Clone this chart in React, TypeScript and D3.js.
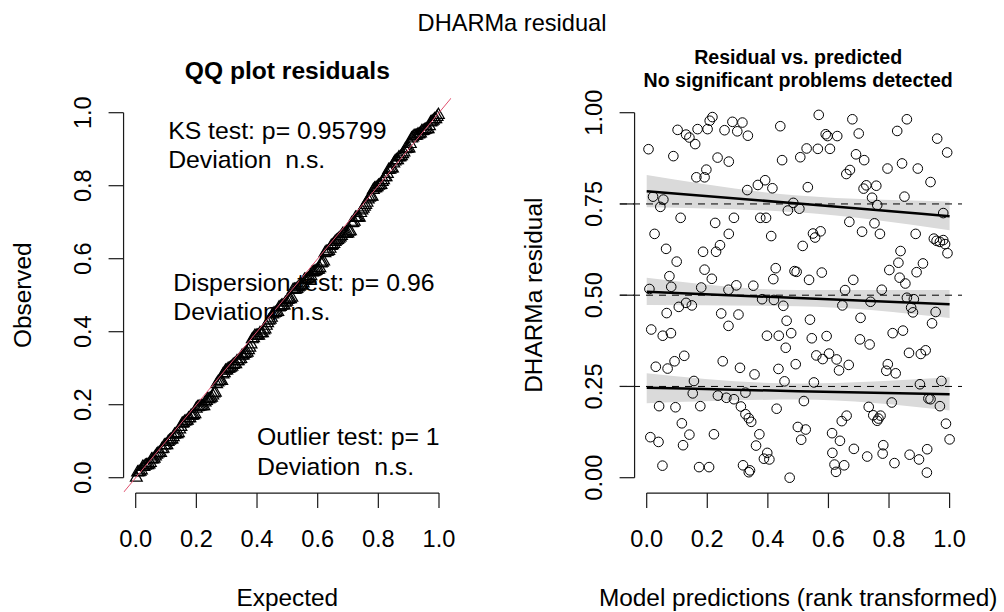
import React from "react";
import * as d3 from "d3";

// ---------- data ----------
const predX = [0.006,0.088,0.102,0.130,0.141,0.160,0.168,0.201,0.208,0.217,
0.234,0.257,0.271,0.283,0.299,0.316,0.334,0.441,0.447,0.507,
0.528,0.568,0.565,0.591,0.597,0.605,0.629,0.679,0.691,0.700,
0.718,0.827,0.859,0.843,0.795,0.895,0.959,0.992,0.164,0.191,
0.197,0.332,0.367,0.391,0.415,0.532,0.659,0.671,0.716,0.725,
0.758,0.744,0.937,0.021,0.055,0.045,0.851,0.484,0.466,0.504,
0.761,0.979,0.112,0.288,0.375,0.394,0.226,0.669,0.752,0.026,
0.271,0.411,0.549,0.556,0.574,0.711,0.770,0.888,0.515,0.948,
0.957,0.968,0.979,0.985,0.993,0.064,0.242,0.229,0.186,0.838,
0.099,0.831,0.075,0.081,0.009,0.191,0.215,0.180,0.296,0.352,
0.270,0.426,0.418,0.488,0.495,0.536,0.578,0.655,0.682,0.801,
0.835,0.854,0.912,0.891,0.776,0.381,0.420,0.451,0.462,0.539,
0.646,0.739,0.859,0.882,0.873,0.879,0.954,0.942,0.706,0.130,
0.149,0.106,0.066,0.246,0.303,0.270,0.015,0.053,0.080,0.397,
0.436,0.477,0.545,0.594,0.704,0.736,0.812,0.846,0.459,0.560,
0.581,0.602,0.627,0.635,0.667,0.866,0.905,0.921,0.030,0.069,
0.092,0.124,0.251,0.308,0.356,0.435,0.492,0.796,0.791,0.822,
0.455,0.552,0.156,0.902,0.973,0.152,0.235,0.263,0.288,0.326,
0.519,0.809,0.930,0.937,0.968,0.041,0.095,0.177,0.311,0.429,
0.326,0.337,0.345,0.116,0.733,0.748,0.765,0.772,0.761,0.660,
0.644,0.988,0.141,0.222,0.372,0.499,0.525,0.612,0.012,0.039,
0.510,0.638,1.000,0.120,0.361,0.926,0.684,0.781,0.779,0.398,
0.405,0.387,0.613,0.728,0.868,0.899,0.052,0.173,0.206,0.318,
0.341,0.337,0.620,0.625,0.652,0.818,0.925,0.472];

const residuals = [0.900,0.881,0.953,0.940,0.932,0.914,0.955,0.955,0.978,0.988,
0.877,0.952,0.866,0.975,0.949,0.973,0.937,0.963,0.870,0.878,
0.902,0.994,0.901,0.941,0.936,0.901,0.936,0.982,0.886,0.943,
0.870,0.950,0.982,0.861,0.847,0.847,0.929,0.891,0.823,0.823,
0.844,0.788,0.802,0.815,0.793,0.796,0.832,0.843,0.792,0.801,
0.800,0.767,0.810,0.770,0.762,0.742,0.770,0.753,0.732,0.737,
0.747,0.725,0.712,0.712,0.712,0.712,0.698,0.701,0.697,0.668,
0.668,0.662,0.669,0.658,0.675,0.674,0.668,0.668,0.635,0.655,
0.649,0.646,0.651,0.640,0.615,0.627,0.637,0.619,0.619,0.621,
0.592,0.589,0.552,0.523,0.517,0.570,0.545,0.521,0.527,0.526,
0.515,0.574,0.544,0.566,0.564,0.542,0.562,0.514,0.542,0.569,
0.548,0.532,0.587,0.563,0.515,0.489,0.487,0.471,0.430,0.433,
0.472,0.482,0.493,0.489,0.466,0.453,0.454,0.423,0.438,0.479,
0.472,0.468,0.451,0.450,0.447,0.416,0.406,0.389,0.396,0.389,
0.389,0.396,0.382,0.388,0.379,0.365,0.396,0.403,0.356,0.335,
0.325,0.340,0.324,0.294,0.309,0.342,0.339,0.349,0.304,0.299,
0.319,0.334,0.319,0.301,0.283,0.298,0.311,0.311,0.293,0.286,
0.264,0.261,0.265,0.256,0.265,0.231,0.225,0.219,0.215,0.233,
0.210,0.206,0.217,0.215,0.196,0.196,0.193,0.196,0.195,0.189,
0.174,0.163,0.153,0.149,0.194,0.171,0.162,0.170,0.156,0.170,
0.155,0.148,0.118,0.119,0.119,0.139,0.132,0.122,0.111,0.098,
0.104,0.101,0.105,0.089,0.088,0.078,0.079,0.089,0.066,0.068,
0.050,0.052,0.068,0.058,0.063,0.050,0.033,0.029,0.029,0.034,
0.020,0.015,0.036,0.016,0.034,0.040,0.014,0.000];

// quantile regression fits (at x = 0, 0.5, 1)
const bandX = [0, 0.5, 1];
const quantiles = [0.25, 0.5, 0.75];
const qFit = [
  [0.2466, 0.237, 0.2284],
  [0.5096, 0.492, 0.475],
  [0.785, 0.751, 0.7165],
];
const qLower = [
  [0.204, 0.214, 0.184],
  [0.473, 0.470, 0.4375],
  [0.741, 0.727, 0.678],
];
const qUpper = [
  [0.286, 0.258, 0.275],
  [0.548, 0.514, 0.514],
  [0.829, 0.773, 0.757],
];

const ticksLeftX = [0, 0.2, 0.4, 0.6, 0.8, 1.0];
const ticksLeftY = [0, 0.2, 0.4, 0.6, 0.8, 1.0];
const ticksRightX = [0, 0.2, 0.4, 0.6, 0.8, 1.0];
const ticksRightY = [0, 0.25, 0.5, 0.75, 1.0];

const mainTitle = "DHARMa residual";
const qqTitle = "QQ plot residuals";
const rvpTitle = ["Residual vs. predicted", "No significant problems detected"];
const qqLegend = [
  { lines: ["KS test: p= 0.95799", "Deviation  n.s."], x: 0.107, y: [138.5, 167.5] },
  { lines: ["Dispersion test: p= 0.96", "Deviation  n.s."], x: 0.124, y: [290.5, 319.5] },
  { lines: ["Outlier test: p= 1", "Deviation  n.s."], x: 0.4, y: [444.5, 474.5] },
];

const FONT = "'Liberation Sans', Arial, Helvetica, sans-serif";
const AX = "#1a1a1a";

export default function App() {
  const W = 1004, H = 612;
  const xL = d3.scaleLinear().domain([0, 1]).range([135.7, 439]);
  const yL = d3.scaleLinear().domain([0, 1]).range([477.7, 112.7]);
  const xR = d3.scaleLinear().domain([0, 1]).range([646.7, 949.6]);
  const yR = yL;

  const n = residuals.length;
  const sorted = [...residuals].sort((a, b) => a - b);
  const expected = sorted.map((_, i) => (i + 0.5) / n);

  const tri = "M0,-6.8 L5.9,3.4 L-5.9,3.4 Z";

  const leftAxisY = yL(-0.04) + 0.8;
  const leftAxisX = xL(-0.04);
  const rightAxisX = xR(-0.04);
  const tickLen = 15;
  const fs = 23.6;
  const fsLab = 24.4;

  const area = (i: number) =>
    d3.area<number>()
      .x((_, k) => xR(bandX[k]))
      .y0((_, k) => yR(qLower[i][k]))
      .y1((_, k) => yR(qUpper[i][k]))
      .curve(d3.curveMonotoneX)(bandX);
  const fitLine = (i: number) =>
    d3.line<number>()
      .x((_, k) => xR(bandX[k]))
      .y((_, k) => yR(qFit[i][k]))
      .curve(d3.curveMonotoneX)(bandX);

  return (
    <svg width={W} height={H} style={{ position: "absolute", left: 0, top: 0, background: "#fff" }} fontFamily={FONT}>
      <rect x={0} y={0} width={W} height={H} fill="#fff" />
      <defs>
        <clipPath id="clipL">
          <rect x={xL(-0.04)} y={yL(1.04)} width={xL(1.04) - xL(-0.04)} height={yL(-0.04) - yL(1.04)} />
        </clipPath>
      </defs>
      <text x={512} y={30.5} fontSize={23.6} textAnchor="middle" fill="#000">{mainTitle}</text>

      {/* ---------- left: QQ plot ---------- */}
      <text x={(xL(-0.04) + xL(1.04)) / 2} y={79} fontSize={24.6} fontWeight="bold" textAnchor="middle">{qqTitle}</text>
      <g>
        {sorted.map((v, i) => (
          <path key={i} d={tri} transform={`translate(${xL(expected[i])},${yL(v)})`} fill="none" stroke="#000" strokeWidth={1.2} />
        ))}
      </g>
      <line clipPath="url(#clipL)" x1={xL(-0.04)} y1={yL(-0.04)} x2={xL(1.04)} y2={yL(1.04)} stroke="#e0506e" strokeWidth={1} />
      {qqLegend.map((g, gi) =>
        g.lines.map((t, li) => (
          <text key={`${gi}-${li}`} x={xL(g.x)} y={g.y[li]} fontSize={24.8} fill="#000" style={{ whiteSpace: "pre" }}>{t}</text>
        ))
      )}
      {/* axes */}
      <line x1={xL(0)} x2={xL(1)} y1={leftAxisY} y2={leftAxisY} stroke={AX} strokeWidth={1.2} />
      {ticksLeftX.map((t) => (
        <g key={t}>
          <line x1={xL(t)} x2={xL(t)} y1={leftAxisY} y2={leftAxisY + tickLen} stroke={AX} strokeWidth={1.2} />
          <text x={xL(t)} y={547} fontSize={fs} textAnchor="middle">{t.toFixed(1)}</text>
        </g>
      ))}
      <line x1={leftAxisX} x2={leftAxisX} y1={yL(0)} y2={yL(1)} stroke={AX} strokeWidth={1.2} />
      {ticksLeftY.map((t) => (
        <g key={t}>
          <line x1={leftAxisX - tickLen} x2={leftAxisX} y1={yL(t)} y2={yL(t)} stroke={AX} strokeWidth={1.2} />
          <text transform={`translate(${leftAxisX - 33},${yL(t)}) rotate(-90)`} fontSize={fs} textAnchor="middle">{t.toFixed(1)}</text>
        </g>
      ))}
      <text x={(xL(0) + xL(1)) / 2} y={605.5} fontSize={fsLab} textAnchor="middle">Expected</text>
      <text transform={`translate(${leftAxisX - 92.5},${(yL(0) + yL(1)) / 2}) rotate(-90)`} fontSize={fsLab} textAnchor="middle">Observed</text>

      {/* ---------- right: residual vs predicted ---------- */}
      <text x={(xR(-0.04) + xR(1.04)) / 2} y={64} fontSize={19.6} fontWeight="bold" textAnchor="middle">{rvpTitle[0]}</text>
      <text x={(xR(-0.04) + xR(1.04)) / 2} y={87} fontSize={19.6} fontWeight="bold" textAnchor="middle">{rvpTitle[1]}</text>
      {quantiles.map((q, i) => (
        <path key={`b${q}`} d={area(i) || ""} fill="#dadada" stroke="none" />
      ))}
      {quantiles.map((q) => (
        <line key={`h${q}`} x1={620} x2={962} y1={yR(q)} y2={yR(q)} stroke="#000" strokeWidth={1} strokeDasharray="7,6" />
      ))}
      {quantiles.map((q, i) => (
        <path key={`l${q}`} d={fitLine(i) || ""} fill="none" stroke="#000" strokeWidth={2.5} />
      ))}
      <g>
        {predX.map((x, i) => (
          <circle key={i} cx={xR(x)} cy={yR(residuals[i])} r={4.8} fill="none" stroke="#000" strokeWidth={1} />
        ))}
      </g>
      <line x1={xR(0)} x2={xR(1)} y1={leftAxisY} y2={leftAxisY} stroke={AX} strokeWidth={1.2} />
      {ticksRightX.map((t) => (
        <g key={t}>
          <line x1={xR(t)} x2={xR(t)} y1={leftAxisY} y2={leftAxisY + tickLen} stroke={AX} strokeWidth={1.2} />
          <text x={xR(t)} y={547} fontSize={fs} textAnchor="middle">{t.toFixed(1)}</text>
        </g>
      ))}
      <line x1={rightAxisX} x2={rightAxisX} y1={yR(0)} y2={yR(1)} stroke={AX} strokeWidth={1.2} />
      {ticksRightY.map((t) => (
        <g key={t}>
          <line x1={rightAxisX - tickLen} x2={rightAxisX} y1={yR(t)} y2={yR(t)} stroke={AX} strokeWidth={1.2} />
          <text transform={`translate(${rightAxisX - 33},${yR(t)}) rotate(-90)`} fontSize={fs} textAnchor="middle">{t.toFixed(2)}</text>
        </g>
      ))}
      <text x={(xR(0) + xR(1)) / 2} y={605.5} fontSize={fsLab} textAnchor="middle">Model predictions (rank transformed)</text>
      <text transform={`translate(${rightAxisX - 92.5},${(yR(0) + yR(1)) / 2}) rotate(-90)`} fontSize={fsLab} textAnchor="middle">DHARMa residual</text>
    </svg>
  );
}
